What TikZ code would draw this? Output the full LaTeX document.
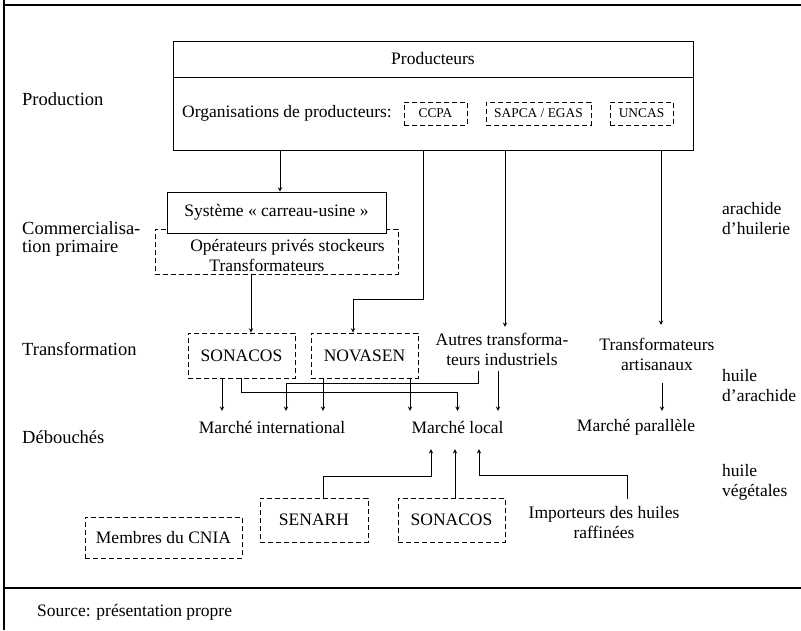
\documentclass[tikz,border=0pt]{standalone}
\usepackage{fontspec}
\setmainfont{Liberation Serif}
\newcommand{\mainfs}{\fontsize{17.5}{20}\selectfont}
\newcommand{\smallfs}{\fontsize{13.4}{16}\selectfont}
\newcommand{\levelfs}{\fontsize{18.5}{18}\selectfont}
\begin{document}
\begin{tikzpicture}[x=1pt,y=-1pt,font=\mainfs,
	box/.style={draw,line width=0.9pt,inner sep=0pt},
	dbox/.style={box,dash pattern=on 5pt off 3pt},
	txt/.style={inner sep=0pt,align=center},
	lvl/.style={inner sep=0pt,anchor=west,align=left,font=\levelfs},
	side/.style={inner sep=0pt,anchor=west,align=left},
	arr/.style={-stealth,line width=0.9pt}]
\useasboundingbox (0,0) rectangle (801,630);
\draw[line width=2pt] (4,0) -- (4,630);
\draw[line width=2.5pt] (3,5) -- (801,5) (3,588) -- (801,588);
% niveaux
\node[lvl] (lprod) at (22,99) {Production};
\node[lvl] (lcom) at (22,239) {Commercialisa-\\tion primaire};
\node[lvl] (ltrans) at (22,349) {Transformation};
\node[lvl] (ldeb) at (22,437) {Débouchés};
\node[side] (rara) at (722,219) {arachide\\d’huilerie};
\node[side] (rhuile) at (722,386) {huile\\d’arachide};
\node[side] (rveg) at (722,482) {huile\\végétales};
\node[side] (src) at (37,612) {Source: présentation propre};
% production
\node[box,minimum width=520,minimum height=36] (prod) at (433,59) {Producteurs};
\node[box,minimum width=520,minimum height=73] (org) at (433,113.5) {};
\node[txt,anchor=west] (orgtxt) at (182,113) {Organisations de producteurs:};
\node[dbox,font=\smallfs,minimum width=63,minimum height=23] (ccpa) at (435.5,113.5) {CCPA};
\node[dbox,font=\smallfs,minimum width=105,minimum height=23] (sapca) at (538.5,113.5) {SAPCA / EGAS};
\node[dbox,font=\smallfs,minimum width=63,minimum height=23] (uncas) at (641.5,113.5) {UNCAS};
% commercialisation
\node[dbox,minimum width=243,minimum height=45,
	label={[txt,yshift=-4]center:\hspace*{22pt}Opérateurs privés stockeurs\\Transformateurs\hspace*{19pt}}] (op) at (276.5,251.5) {};
\node[box,fill=white,minimum width=219,minimum height=41] (sys) at (276.5,212.5) {Système « carreau-usine »};
% transformation
\node[dbox,minimum width=107,minimum height=45] (son1) at (241.5,355.5) {SONACOS};
\node[dbox,minimum width=107,minimum height=45] (nov) at (364.5,355.5) {NOVASEN};
\node[txt,minimum height=44] (autres) at (502,349) {Autres transforma-\\teurs industriels};
\node[txt,minimum height=58] (artis) at (657,354) {Transformateurs\\artisanaux};
% debouches
\node[txt,minimum height=32] (mint) at (272,427) {Marché international};
\node[txt,minimum height=32] (mloc) at (457.5,427) {Marché local};
\node[txt,minimum height=32] (mpar) at (636,427) {Marché parallèle};
\node[dbox,minimum width=157,minimum height=41] (cnia) at (163.5,537.5) {Membres du CNIA};
\node[dbox,minimum width=108,minimum height=44] (senarh) at (314,520) {SENARH};
\node[dbox,minimum width=107,minimum height=44] (son2) at (451.5,520) {SONACOS};
\node[txt,minimum height=48] (imp) at (604,523) {Importeurs des huiles\\raffinées};
% fleches
\draw[arr] ([xshift=3.5]sys.north |- org.south) -- ([xshift=3.5]sys.north);
\draw[arr] ([xshift=9.5]son1.north |- op.south) -- ([xshift=9.5]son1.north);
\draw[arr] ([xshift=-10]org.south) -- ++(0,149) -| ([xshift=-11.5]nov.north);
\draw[arr] ([xshift=72]org.south) -- ([xshift=72]org.south |- autres.north);
\draw[arr] ([xshift=228]org.south) -- ([xshift=228]org.south |- artis.north);
\draw[arr] ([xshift=-19.5]son1.south) -- ([xshift=-19.5]son1.south |- mint.north);
\draw[arr] (son1.south) -- ++(0,14) -| (mloc.north);
\draw[arr] ([xshift=-24]autres.south) -- ++(0,12) -| ([xshift=14]mint.north);
\draw[arr] ([xshift=-41.5]nov.south) -- ([xshift=-41.5]nov.south |- mint.north);
\draw[arr] ([xshift=45.5]nov.south) -- ([xshift=45.5]nov.south |- mloc.north);
\draw[arr] ([xshift=-4]autres.south) -- ([xshift=-4]autres.south |- mloc.north);
\draw[arr] ([xshift=5]artis.south) -- ([xshift=5]artis.south |- mpar.north);
\draw[arr] ([xshift=9]senarh.north) -- ++(0,-21) -| ([xshift=-26.5,yshift=-6]mloc.south);
\draw[arr] ([xshift=3.5]son2.north) -- ([xshift=3.5,yshift=-6]son2.north |- mloc.south);
\draw[arr] ([xshift=23]imp.north) -- ++(0,-23) -| ([xshift=21.5,yshift=-6]mloc.south);
%\draw[arr] (cnia.north) -- (mint.south);
\end{tikzpicture}
\end{document}
